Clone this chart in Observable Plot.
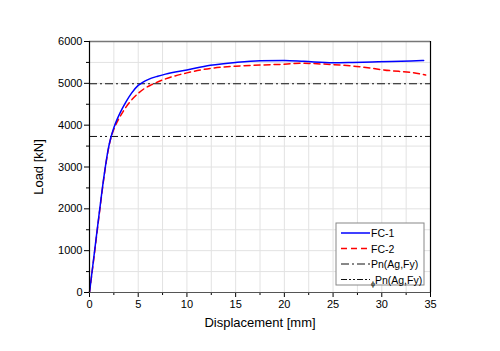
<!DOCTYPE html>
<html>
<head>
<meta charset="utf-8">
<script src="https://cdn.jsdelivr.net/npm/d3@7"></script>
<script src="https://cdn.jsdelivr.net/npm/@observablehq/plot@0.6"></script>
<style>
  html, body { margin: 0; padding: 0; background: #fff; }
  #chart { width: 500px; height: 351px; }
</style>
</head>
<body>
<div id="chart"></div>
<script>
// FC-1 (blue solid)
const fc1Disp = [0, 0.5, 1.0, 1.5, 1.9, 2.2, 2.5, 2.8, 3.15, 3.7, 4.3, 5.0, 5.5, 6.0, 7.0, 7.8, 10, 12.4, 15, 17.5, 20, 22, 25, 27, 29, 31, 33, 34.3];
const fc1Load = [0, 950, 1900, 2800, 3400, 3710, 3940, 4120, 4300, 4540, 4760, 4950, 5030, 5090, 5170, 5220, 5320, 5430, 5500, 5540, 5545, 5525, 5492, 5500, 5512, 5522, 5535, 5545];
// FC-2 (red dashed)
const fc2Disp = [0, 0.5, 1.0, 1.5, 1.9, 2.2, 2.5, 2.8, 3.3, 3.8, 4.2, 5.0, 5.6, 6.4, 7.5, 10, 12.4, 15, 17.5, 20.3, 21.6, 24, 27.4, 30.9, 33, 34.5];
const fc2Load = [0, 920, 1870, 2780, 3380, 3700, 3900, 4060, 4270, 4450, 4570, 4760, 4870, 4970, 5080, 5250, 5357, 5410, 5437, 5461, 5480, 5461, 5405, 5302, 5260, 5199];
// Reference capacities
const refNames = ["Pn(Ag,Fy)", "\u03D5Pn(Ag,Fy)"];
const refLoads = [4990, 3730];
const xTicks = [0, 5, 10, 15, 20, 25, 30, 35];
const yTicks = [0, 1000, 2000, 3000, 4000, 5000, 6000];
const xMinor = [2.5, 7.5, 12.5, 17.5, 22.5, 27.5, 32.5];
const yMinor = [500, 1500, 2500, 3500, 4500, 5500];

const fc1 = fc1Disp.map((d, i) => ({d, L: fc1Load[i]}));
const fc2 = fc2Disp.map((d, i) => ({d, L: fc2Load[i]}));
const refs = refNames.map((n, i) => ({n, L: refLoads[i]}));

const plot = Plot.plot({
  width: 500,
  height: 351,
  marginLeft: 89,
  marginRight: 70,
  marginTop: 41,
  marginBottom: 59,
  style: { fontFamily: "'Liberation Sans', Arial, sans-serif", fontSize: "11px", background: "#fff", color: "#000" },
  x: { domain: [0, 35] },
  y: { domain: [0, 6000] },
  marks: [
    Plot.gridX(xTicks.concat(xMinor), { stroke: "#e2e2e2", strokeOpacity: 1, strokeWidth: 1 }),
    Plot.gridY(yTicks.concat(yMinor), { stroke: "#e2e2e2", strokeOpacity: 1, strokeWidth: 1 }),
    Plot.ruleY(refs.slice(0, 1), { y: "L", stroke: "#111", strokeWidth: 1, strokeDasharray: "8,3,2,3" }),
    Plot.ruleY(refs.slice(1, 2), { y: "L", stroke: "#111", strokeWidth: 1, strokeDasharray: "8,3,2,3,2,3" }),
    Plot.line(fc2, { x: "d", y: "L", stroke: "#ff0000", strokeWidth: 1.5, strokeDasharray: "6,4", curve: "monotone-x" }),
    Plot.line(fc1, { x: "d", y: "L", stroke: "#0000ff", strokeWidth: 1.5, curve: "monotone-x" }),
    Plot.axisX(xTicks, { tickSize: 5, tickPadding: 3, tickFormat: d => String(d), label: "Displacement [mm]", labelAnchor: "center", labelArrow: "none", labelOffset: 34 }),
    Plot.axisX(xMinor, { tickSize: 3, tickFormat: () => "", label: null }),
    Plot.axisY(yTicks, { tickSize: 5, tickPadding: 2, tickFormat: d => String(d), label: "Load [kN]", labelAnchor: "center", labelArrow: "none", labelOffset: 56 }),
    Plot.axisY(yMinor, { tickSize: 3, tickFormat: () => "", label: null }),
    Plot.ruleY([6000], { stroke: "#777", strokeWidth: 1.5 }),
    Plot.ruleY([0], { stroke: "#555", strokeWidth: 1.2 }),
    Plot.ruleX([0], { stroke: "#000", strokeWidth: 1.2 }),
    Plot.ruleX([35], { stroke: "#000", strokeWidth: 1.2 })
  ]
});

// Axis label font size
d3.select(plot).selectAll("g[aria-label='x-axis label'] text, g[aria-label='y-axis label'] text").style("font-size", "13px");

// Legend inside the plot
const svg = d3.select(plot);
const lg = svg.append("g").attr("font-family", "'Liberation Sans', Arial, sans-serif").attr("font-size", "10.5px").attr("text-anchor", "start");
lg.append("rect").attr("x", 336).attr("y", 223).attr("width", 88).attr("height", 62)
  .attr("fill", "#fff").attr("stroke", "#888").attr("stroke-width", 1);
const items = [
  { label: "FC-1", stroke: "#0000ff", dash: null, w: 1.5 },
  { label: "FC-2", stroke: "#ff0000", dash: "6,4", w: 1.5 },
  { label: refNames[0], stroke: "#111", dash: "8,3,2,3", w: 1 },
  { label: refNames[1], stroke: "#111", dash: "6,2,2,2,2,2", w: 1 }
];
items.forEach((it, i) => {
  const y = 233 + i * 15.5;
  const l = lg.append("line").attr("x1", 341).attr("x2", 370).attr("y1", y).attr("y2", y)
    .attr("stroke", it.stroke).attr("stroke-width", it.w);
  if (it.dash) l.attr("stroke-dasharray", it.dash);
  const t = lg.append("text").attr("x", 371).attr("y", y + 4).attr("fill", "#000").attr("text-anchor", "start");
  if (i === 3) {
    t.append("tspan").attr("font-size", "7px").attr("dy", "2").text("\u03D5");
    t.append("tspan").attr("dy", "-2").text("Pn(Ag,Fy)");
  } else {
    t.text(it.label);
  }
});

document.getElementById("chart").appendChild(plot);
</script>
</body>
</html>
